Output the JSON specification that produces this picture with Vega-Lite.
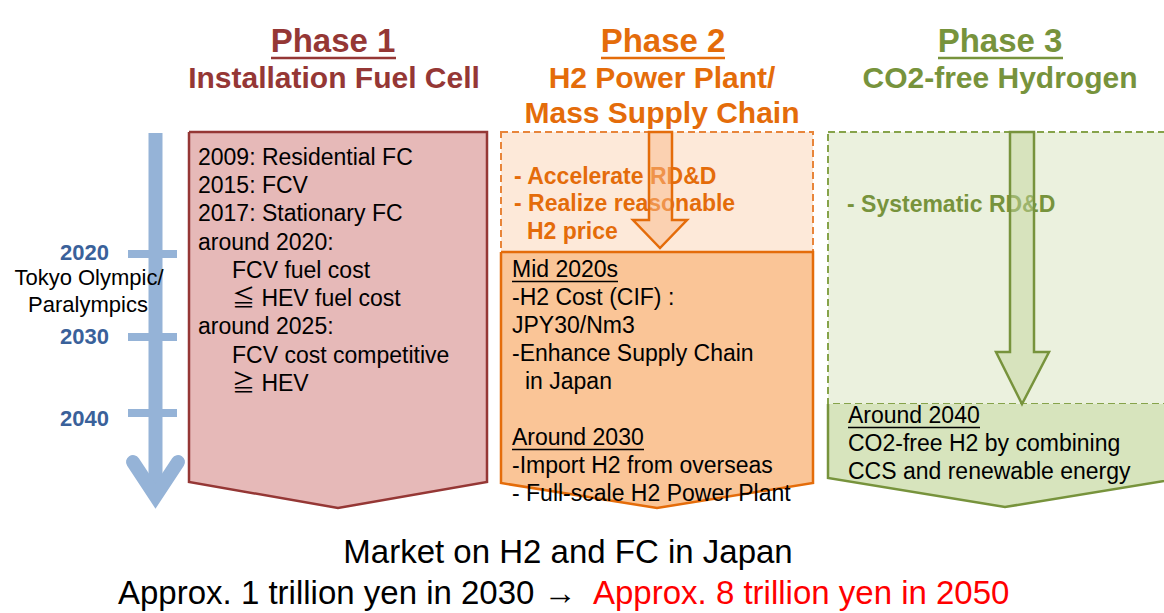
{
  "$schema": "https://vega.github.io/schema/vega-lite/v6.json",
  "width": 1164,
  "height": 613,
  "autosize": "none",
  "padding": 0,
  "background": "#ffffff",
  "config": {"view": {"stroke": null}, "text": {"font": "Liberation Sans, Noto Sans CJK JP, DejaVu Sans"}},
  "datasets": {
    "fills": [
      {"shape": "p1", "x": 189, "y": 132, "y2": 482},
      {"shape": "p1", "x": 338, "y": 132, "y2": 508},
      {"shape": "p1", "x": 487, "y": 132, "y2": 482},
      {"shape": "p2", "x": 501, "y": 252, "y2": 483},
      {"shape": "p2", "x": 657, "y": 252, "y2": 508},
      {"shape": "p2", "x": 813, "y": 252, "y2": 483},
      {"shape": "p3", "x": 828, "y": 404, "y2": 478},
      {"shape": "p3", "x": 1005, "y": 404, "y2": 507},
      {"shape": "p3", "x": 1182, "y": 404, "y2": 478}
    ],
    "outlines": [
      {"shape": "p1", "o": 1, "x": 189, "y": 132},
      {"shape": "p1", "o": 2, "x": 487, "y": 132},
      {"shape": "p1", "o": 3, "x": 487, "y": 482},
      {"shape": "p1", "o": 4, "x": 338, "y": 508},
      {"shape": "p1", "o": 5, "x": 189, "y": 482},
      {"shape": "p1", "o": 6, "x": 189, "y": 132},
      {"shape": "p2", "o": 1, "x": 501, "y": 252},
      {"shape": "p2", "o": 2, "x": 813, "y": 252},
      {"shape": "p2", "o": 3, "x": 813, "y": 483},
      {"shape": "p2", "o": 4, "x": 657, "y": 508},
      {"shape": "p2", "o": 5, "x": 501, "y": 483},
      {"shape": "p2", "o": 6, "x": 501, "y": 252},
      {"shape": "p3", "o": 1, "x": 828, "y": 404},
      {"shape": "p3", "o": 2, "x": 828, "y": 478},
      {"shape": "p3", "o": 3, "x": 1005, "y": 507},
      {"shape": "p3", "o": 4, "x": 1182, "y": 478},
      {"shape": "p3", "o": 5, "x": 1182, "y": 404}
    ],
    "dashed": [
      {"shape": "p2top", "x": 501, "x2": 813, "y": 132, "y2": 252},
      {"shape": "p3top", "x": 828, "x2": 1182, "y": 132, "y2": 404}
    ],
    "arrows": [
      {"shape": "a2", "y": 132, "x": 649, "x2": 672},
      {"shape": "a2", "y": 220, "x": 649, "x2": 672},
      {"shape": "a2", "y": 220.01, "x": 633, "x2": 687},
      {"shape": "a2", "y": 248, "x": 660, "x2": 660},
      {"shape": "a3", "y": 132, "x": 1010, "x2": 1034},
      {"shape": "a3", "y": 352, "x": 1010, "x2": 1034},
      {"shape": "a3", "y": 352.01, "x": 996, "x2": 1049},
      {"shape": "a3", "y": 404, "x": 1022, "x2": 1022}
    ],
    "shaft": [{"x": 155.5, "x2": 155.5, "y": 133, "y2": 497}],
    "ticks": [
      {"year": "2020", "x": 128, "x2": 177, "y": 254, "y2": 254},
      {"year": "2030", "x": 128, "x2": 177, "y": 337, "y2": 337},
      {"year": "2040", "x": 128, "x2": 177, "y": 413, "y2": 413}
    ],
    "chevron": [
      {"o": 1, "x": 133, "y": 462},
      {"o": 2, "x": 155.5, "y": 496},
      {"o": 3, "x": 178, "y": 462}
    ],
    "body": [
      {"x": 198, "y": 158, "t": "2009: Residential FC"},
      {"x": 198, "y": 186, "t": "2015: FCV"},
      {"x": 198, "y": 214, "t": "2017: Stationary FC"},
      {"x": 198, "y": 243, "t": "around 2020:"},
      {"x": 232, "y": 271, "t": "FCV fuel cost"},
      {"x": 232, "y": 299, "t": "≦ HEV fuel cost"},
      {"x": 198, "y": 327, "t": "around 2025:"},
      {"x": 232, "y": 356, "t": "FCV cost competitive"},
      {"x": 232, "y": 384, "t": "≧ HEV"},
      {"x": 512, "y": 270, "t": "Mid 2020s"},
      {"x": 512, "y": 298, "t": "-H2 Cost (CIF) :"},
      {"x": 512, "y": 326, "t": "JPY30/Nm3"},
      {"x": 512, "y": 354, "t": "-Enhance Supply Chain"},
      {"x": 525, "y": 382, "t": "in Japan"},
      {"x": 512, "y": 438, "t": "Around 2030"},
      {"x": 512, "y": 466, "t": "-Import H2 from overseas"},
      {"x": 512, "y": 494, "t": "- Full-scale H2 Power Plant"},
      {"x": 848, "y": 416, "t": "Around 2040"},
      {"x": 848, "y": 444, "t": "CO2-free H2 by combining"},
      {"x": 848, "y": 472, "t": "CCS and renewable energy"}
    ],
    "notes": [
      {"tone": "p2", "x": 514, "y": 177, "t": "- Accelerate RD&D"},
      {"tone": "p2", "x": 514, "y": 204, "t": "- Realize reasonable"},
      {"tone": "p2", "x": 527, "y": 232, "t": "H2 price"},
      {"tone": "p3", "x": 847, "y": 205, "t": "- Systematic RD&D"}
    ],
    "years": [
      {"tone": "year", "x": 109, "y": 253, "t": "2020"},
      {"tone": "year", "x": 109, "y": 337, "t": "2030"},
      {"tone": "year", "x": 109, "y": 419, "t": "2040"}
    ],
    "olympic": [
      {"x": 89, "y": 278, "t": "Tokyo Olympic/"},
      {"x": 88, "y": 305, "t": "Paralympics"}
    ],
    "headers": [
      {"tone": "p1", "x": 333, "y": 42, "t": "Phase 1"},
      {"tone": "p2", "x": 663, "y": 42, "t": "Phase 2"},
      {"tone": "p3", "x": 1000, "y": 42, "t": "Phase 3"}
    ],
    "subtitles": [
      {"tone": "p1", "x": 334, "y": 79, "t": "Installation Fuel Cell"},
      {"tone": "p2", "x": 662, "y": 79, "t": "H2 Power Plant/"},
      {"tone": "p2", "x": 662, "y": 114, "t": "Mass Supply Chain"},
      {"tone": "p3", "x": 1000, "y": 79, "t": "CO2-free Hydrogen"}
    ],
    "market": [
      {"tone": "black", "x": 568, "y": 553, "t": "Market on H2 and FC in Japan"}
    ],
    "market2": [
      {"tone": "black", "x": 118, "y": 594, "t": "Approx. 1 trillion yen in 2030 →"},
      {"tone": "red", "x": 593, "y": 594, "t": "Approx. 8 trillion yen in 2050"}
    ],
    "headerlines": [
      {"tone": "p1", "x": 271, "x2": 396, "y": 58, "y2": 58},
      {"tone": "p2", "x": 601, "x2": 725, "y": 58, "y2": 58},
      {"tone": "p3", "x": 938, "x2": 1063, "y": 58, "y2": 58}
    ],
    "bodylines": [
      {"tone": "black", "x": 512, "x2": 618, "y": 281.5, "y2": 281.5},
      {"tone": "black", "x": 512, "x2": 644, "y": 449.5, "y2": 449.5},
      {"tone": "black", "x": 848, "x2": 980, "y": 427.5, "y2": 427.5}
    ]
  },
  "encoding": {
    "x": {"field": "x", "type": "quantitative", "scale": {"domain": [0, 1164], "nice": false, "zero": false}, "axis": null},
    "y": {"field": "y", "type": "quantitative", "scale": {"domain": [0, 613], "nice": false, "zero": false, "reverse": true}, "axis": null}
  },
  "layer": [
    {
      "data": {"name": "dashed"},
      "mark": {"type": "rect", "strokeDash": [7, 4], "strokeWidth": 2, "clip": true},
      "encoding": {
        "x2": {"field": "x2"},
        "y2": {"field": "y2"},
        "fill": {"field": "shape", "type": "nominal", "legend": null, "scale": {"domain": ["p1", "p2", "p3", "p2top", "p3top", "a2", "a3"], "range": ["#e6b9b8", "#fac597", "#d7e4bd", "#fde9d9", "#ebf1de", "#f9b98a", "#c3d69b"]}},
        "stroke": {"field": "shape", "type": "nominal", "legend": null, "scale": {"domain": ["p1", "p2", "p3", "p2top", "p3top", "a2", "a3"], "range": ["#953735", "#e46c0a", "#77933c", "#e8853a", "#86a34a", "#e46c0a", "#77933c"]}}
      }
    },
    {
      "data": {"name": "fills"},
      "mark": {"type": "area", "clip": true, "opacity": 1},
      "encoding": {
        "y2": {"field": "y2"},
        "fill": {"field": "shape", "type": "nominal", "legend": null, "scale": {"domain": ["p1", "p2", "p3", "p2top", "p3top", "a2", "a3"], "range": ["#e6b9b8", "#fac597", "#d7e4bd", "#fde9d9", "#ebf1de", "#f9b98a", "#c3d69b"]}}
      }
    },
    {
      "data": {"name": "outlines"},
      "mark": {"type": "line", "strokeWidth": 2.5, "clip": true, "strokeJoin": "miter"},
      "encoding": {
        "order": {"field": "o", "type": "quantitative"},
        "stroke": {"field": "shape", "type": "nominal", "legend": null, "scale": {"domain": ["p1", "p2", "p3", "p2top", "p3top", "a2", "a3"], "range": ["#953735", "#e46c0a", "#77933c", "#e8853a", "#86a34a", "#e46c0a", "#77933c"]}}
      }
    },
    {
      "data": {"name": "shaft"},
      "mark": {"type": "rule", "strokeWidth": 14, "color": "#95b3d7"},
      "encoding": {"x2": {"field": "x2"}, "y2": {"field": "y2"}}
    },
    {
      "data": {"name": "ticks"},
      "mark": {"type": "rule", "strokeWidth": 8, "color": "#95b3d7"},
      "encoding": {"x2": {"field": "x2"}, "y2": {"field": "y2"}}
    },
    {
      "data": {"name": "chevron"},
      "mark": {"type": "line", "strokeWidth": 14, "color": "#95b3d7", "strokeJoin": "miter", "strokeCap": "round"},
      "encoding": {"order": {"field": "o", "type": "quantitative"}}
    },
    {
      "data": {"name": "body"},
      "mark": {"type": "text", "align": "left", "baseline": "middle", "fontSize": 23, "color": "#000000"},
      "encoding": {"text": {"field": "t"}}
    },
    {
      "data": {"name": "notes"},
      "mark": {"type": "text", "align": "left", "baseline": "middle", "fontSize": 23, "fontWeight": "bold"},
      "encoding": {
        "text": {"field": "t"},
        "color": {"field": "tone", "type": "nominal", "legend": null, "scale": {"domain": ["p1", "p2", "p3", "year", "black", "red"], "range": ["#953735", "#e46c0a", "#77933c", "#3a619a", "#000000", "#ff0000"]}}
      }
    },
    {
      "data": {"name": "arrows"},
      "mark": {"type": "area", "strokeWidth": 2.5, "fillOpacity": 0.5, "strokeJoin": "miter"},
      "encoding": {
        "x2": {"field": "x2"},
        "fill": {"field": "shape", "type": "nominal", "legend": null, "scale": {"domain": ["p1", "p2", "p3", "p2top", "p3top", "a2", "a3"], "range": ["#e6b9b8", "#fac597", "#d7e4bd", "#fde9d9", "#ebf1de", "#f9b98a", "#c3d69b"]}},
        "stroke": {"field": "shape", "type": "nominal", "legend": null, "scale": {"domain": ["p1", "p2", "p3", "p2top", "p3top", "a2", "a3"], "range": ["#953735", "#e46c0a", "#77933c", "#e8853a", "#86a34a", "#e46c0a", "#77933c"]}}
      }
    },
    {
      "data": {"name": "years"},
      "mark": {"type": "text", "align": "right", "baseline": "middle", "fontSize": 22, "fontWeight": "bold"},
      "encoding": {
        "text": {"field": "t"},
        "color": {"field": "tone", "type": "nominal", "legend": null, "scale": {"domain": ["p1", "p2", "p3", "year", "black", "red"], "range": ["#953735", "#e46c0a", "#77933c", "#3a619a", "#000000", "#ff0000"]}}
      }
    },
    {
      "data": {"name": "olympic"},
      "mark": {"type": "text", "align": "center", "baseline": "middle", "fontSize": 22, "color": "#000000"},
      "encoding": {"text": {"field": "t"}}
    },
    {
      "data": {"name": "headers"},
      "mark": {"type": "text", "align": "center", "baseline": "middle", "fontSize": 33, "fontWeight": "bold"},
      "encoding": {
        "text": {"field": "t"},
        "color": {"field": "tone", "type": "nominal", "legend": null, "scale": {"domain": ["p1", "p2", "p3", "year", "black", "red"], "range": ["#953735", "#e46c0a", "#77933c", "#3a619a", "#000000", "#ff0000"]}}
      }
    },
    {
      "data": {"name": "subtitles"},
      "mark": {"type": "text", "align": "center", "baseline": "middle", "fontSize": 30, "fontWeight": "bold"},
      "encoding": {
        "text": {"field": "t"},
        "color": {"field": "tone", "type": "nominal", "legend": null, "scale": {"domain": ["p1", "p2", "p3", "year", "black", "red"], "range": ["#953735", "#e46c0a", "#77933c", "#3a619a", "#000000", "#ff0000"]}}
      }
    },
    {
      "data": {"name": "market"},
      "mark": {"type": "text", "align": "center", "baseline": "middle", "fontSize": 33},
      "encoding": {
        "text": {"field": "t"},
        "color": {"field": "tone", "type": "nominal", "legend": null, "scale": {"domain": ["p1", "p2", "p3", "year", "black", "red"], "range": ["#953735", "#e46c0a", "#77933c", "#3a619a", "#000000", "#ff0000"]}}
      }
    },
    {
      "data": {"name": "market2"},
      "mark": {"type": "text", "align": "left", "baseline": "middle", "fontSize": 33},
      "encoding": {
        "text": {"field": "t"},
        "color": {"field": "tone", "type": "nominal", "legend": null, "scale": {"domain": ["p1", "p2", "p3", "year", "black", "red"], "range": ["#953735", "#e46c0a", "#77933c", "#3a619a", "#000000", "#ff0000"]}}
      }
    },
    {
      "data": {"name": "headerlines"},
      "mark": {"type": "rule", "strokeWidth": 2.5},
      "encoding": {
        "x2": {"field": "x2"},
        "y2": {"field": "y2"},
        "color": {"field": "tone", "type": "nominal", "legend": null, "scale": {"domain": ["p1", "p2", "p3", "year", "black", "red"], "range": ["#953735", "#e46c0a", "#77933c", "#3a619a", "#000000", "#ff0000"]}}
      }
    },
    {
      "data": {"name": "bodylines"},
      "mark": {"type": "rule", "strokeWidth": 1.5},
      "encoding": {
        "x2": {"field": "x2"},
        "y2": {"field": "y2"},
        "color": {"field": "tone", "type": "nominal", "legend": null, "scale": {"domain": ["p1", "p2", "p3", "year", "black", "red"], "range": ["#953735", "#e46c0a", "#77933c", "#3a619a", "#000000", "#ff0000"]}}
      }
    }
  ]
}
